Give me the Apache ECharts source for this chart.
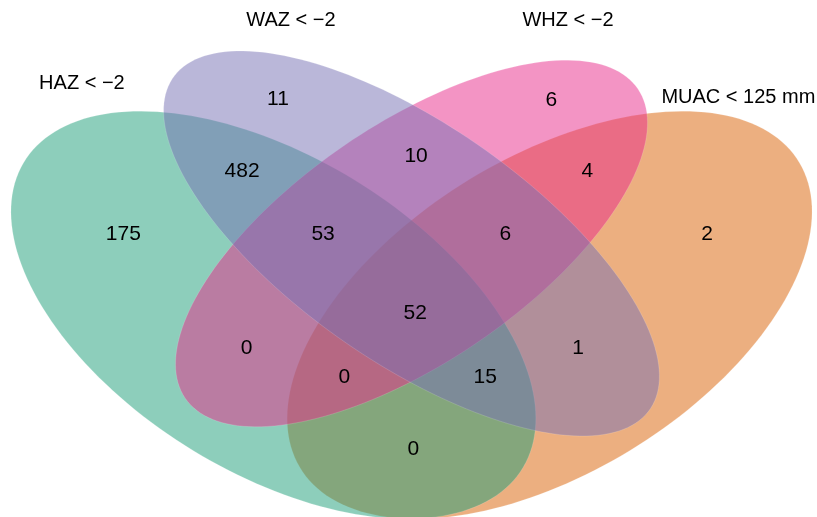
<!DOCTYPE html>
<html>
<head>
<meta charset="utf-8">
<title>Venn</title>
<script src="https://cdn.jsdelivr.net/npm/echarts@6/dist/echarts.min.js"></script>
<style>
    html, body { margin: 0; padding: 0; background: #fff; }
    #main { width: 817px; height: 517px; }
</style>
</head>
<body>
<div id="main"></div>
<script>
// 四个集合
const setNames = ['HAZ < −2', 'WAZ < −2', 'WHZ < −2', 'MUAC < 125 mm'];
const setColors = ['#1B9E77', '#7570B3', '#E7298A', '#D95F02'];

// 各区域（按集合组合）
const regionKeys = ['HAZ', 'WAZ', 'WHZ', 'MUAC',
    'HAZ&WAZ', 'WAZ&WHZ', 'WHZ&MUAC', 'HAZ&WHZ', 'WAZ&MUAC', 'HAZ&MUAC',
    'HAZ&WAZ&WHZ', 'WAZ&WHZ&MUAC', 'HAZ&WHZ&MUAC', 'HAZ&WAZ&MUAC', 'ALL'];
const regionCounts = [175, 11, 6, 2, 482, 10, 4, 0, 1, 0, 53, 6, 0, 15, 52];

// 布局：椭圆（单位坐标，y 向上，旋转角为逆时针度数）
const ellCx = [0.35, 0.50, 0.50, 0.65];
const ellCy = [0.47, 0.57, 0.57, 0.47];
const ellA = [0.35, 0.35, 0.33, 0.35];
const ellB = [0.20, 0.15, 0.15, 0.20];
const ellRot = [135, 135, 45, 45];
const drawOrder = [3, 0, 2, 1];

// 布局：数字标签位置
const regionLabelX = [0.187, 0.355, 0.652, 0.821, 0.316, 0.505, 0.691, 0.321, 0.681, 0.502, 0.404, 0.602, 0.427, 0.580, 0.504];
const regionLabelY = [0.585, 0.774, 0.772, 0.585, 0.673, 0.694, 0.673, 0.425, 0.425, 0.285, 0.585, 0.585, 0.385, 0.385, 0.474];
// 布局：集合名称位置
const nameX = [0.142, 0.369, 0.670, 0.855];
const nameY = [0.795, 0.883, 0.883, 0.776];

const FONT = '"Liberation Sans", Arial, sans-serif';

function ellipsePoints(i) {
    const pts = [];
    const r = ellRot[i] * Math.PI / 180;
    const n = 180;
    for (let k = 0; k < n; k++) {
        const t = 2 * Math.PI * k / n;
        const ca = ellA[i] * Math.cos(t);
        const sb = ellB[i] * Math.sin(t);
        pts.push([
            ellCx[i] + ca * Math.cos(r) - sb * Math.sin(r),
            ellCy[i] + ca * Math.sin(r) + sb * Math.cos(r)
        ]);
    }
    return pts;
}

const chart = echarts.init(document.getElementById('main'));

const option = {
    animation: false,
    backgroundColor: '#ffffff',
    grid: { left: 0, right: 0, top: 0, bottom: 0 },
    xAxis: { type: 'value', min: 0.05305, max: 0.94042, show: false },
    yAxis: { type: 'value', min: 0.1875, max: 0.9106, show: false },
    series: [
        {
            // 椭圆
            type: 'custom',
            coordinateSystem: 'cartesian2d',
            data: drawOrder.map(i => [ellCx[i], ellCy[i], i]),
            renderItem: function (params, api) {
                const idx = api.value(2);
                const pts = ellipsePoints(idx).map(p => api.coord(p));
                return {
                    type: 'polygon',
                    shape: { points: pts },
                    style: {
                        fill: setColors[idx],
                        opacity: 0.5,
                        stroke: 'rgba(255,255,255,0.5)',
                        lineWidth: 0.6
                    }
                };
            },
            silent: true
        },
        {
            // 区域数字
            type: 'custom',
            coordinateSystem: 'cartesian2d',
            data: regionCounts.map((v, i) => [regionLabelX[i], regionLabelY[i], v]),
            renderItem: function (params, api) {
                const p = api.coord([api.value(0), api.value(1)]);
                return {
                    type: 'text',
                    x: p[0],
                    y: p[1] + 1.5,
                    style: {
                        text: String(api.value(2)),
                        fill: '#000',
                        font: '21px ' + FONT,
                        align: 'center',
                        verticalAlign: 'middle'
                    }
                };
            },
            silent: true
        },
        {
            // 集合名称
            type: 'custom',
            coordinateSystem: 'cartesian2d',
            data: setNames.map((name, i) => [nameX[i], nameY[i], i]),
            renderItem: function (params, api) {
                const p = api.coord([api.value(0), api.value(1)]);
                return {
                    type: 'text',
                    x: p[0],
                    y: p[1] + 1,
                    style: {
                        text: setNames[api.value(2)],
                        fill: '#000',
                        font: '20px ' + FONT,
                        align: 'center',
                        verticalAlign: 'middle'
                    }
                };
            },
            silent: true
        }
    ]
};

chart.setOption(option);
</script>
</body>
</html>
